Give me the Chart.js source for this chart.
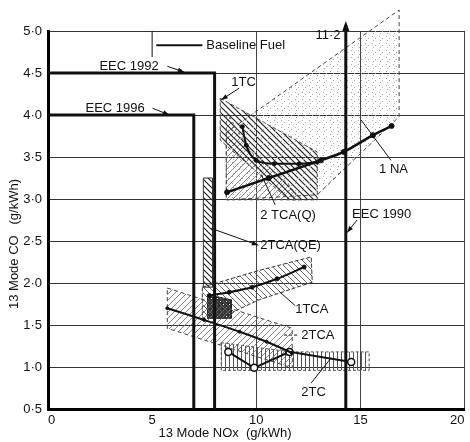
<!DOCTYPE html>
<html>
<head>
<meta charset="utf-8">
<script src="https://cdn.jsdelivr.net/npm/chart.js@4.4.1/dist/chart.umd.min.js"></script>
<style>
html, body { margin: 0; padding: 0; background: #fff; }
#wrap { width: 470px; height: 442px; position: relative; }
</style>
</head>
<body>
<div id="wrap"><canvas id="c"></canvas></div>
<script>
// x = 13 Mode NOx (g/kWh), y = 13 Mode CO (g/kWh)
var xTicks = [0, 5, 10, 15, 20];
var yTicks = [0.5, 1.0, 1.5, 2.0, 2.5, 3.0, 3.5, 4.0, 4.5, 5.0];

// baseline fuel curves
var na1NOx = [8.6, 10.6, 13.1, 14.2, 15.6, 16.5];
var na1CO = [3.08, 3.25, 3.46, 3.56, 3.76, 3.87];
var tcaQNOx = [9.33, 9.52, 10.0, 10.86, 12.06, 12.93];
var tcaQCO = [3.86, 3.64, 3.46, 3.42, 3.42, 3.44];
var tca1NOx = [7.75, 8.7, 9.8, 11.0, 12.3];
var tca1CO = [1.85, 1.89, 1.95, 2.05, 2.19];
var tca2NOx = [5.73, 7.5, 9.2, 10.5, 11.7];
var tca2CO = [1.70, 1.56, 1.42, 1.30, 1.17];
var tc2NOx = [8.66, 9.9, 11.6, 14.56];
var tc2CO = [1.18, 0.99, 1.18, 1.06];

// scatter bands (outlines)
var na1BandNOx = [8.56, 16.86, 16.86, 12.93, 8.56, 8.56];
var na1BandCO = [3.79, 5.25, 3.98, 3.05, 2.99, 3.79];
var tc1BandNOx = [8.27, 12.93, 12.93, 11.58, 8.27, 8.27];
var tc1BandCO = [4.20, 3.56, 2.99, 2.99, 3.70, 4.20];
var tcaQBandNOx = [8.56, 9.67, 11.58, 12.06, 8.56, 8.56];
var tcaQBandCO = [4.04, 3.58, 3.17, 2.99, 2.99, 4.04];
var tcaQEBandNOx = [7.46, 7.90, 7.90, 7.46, 7.46];
var tcaQEBandCO = [3.25, 3.25, 1.95, 1.95, 3.25];
var tca1BandNOx = [7.41, 10.14, 12.64, 12.69, 10.14, 8.23, 7.41, 7.41];
var tca1BandCO = [1.95, 2.15, 2.31, 2.01, 1.80, 1.58, 1.58, 1.95];
var tca2BandNOx = [5.73, 11.73, 11.73, 5.73, 5.73];
var tca2BandCO = [1.94, 1.46, 0.99, 1.46, 1.94];
var tc2BandNOx = [8.32, 11.68, 15.42, 15.42, 8.32, 8.32];
var tc2BandCO = [1.29, 1.18, 1.18, 0.96, 0.96, 1.29];
var overlapNOx = [7.66, 8.8, 8.8, 7.66, 7.66];
var overlapCO = [1.86, 1.80, 1.58, 1.58, 1.86];

// legislative limits
var eec1992NOx = [0, 8, 8];
var eec1992CO = [4.5, 4.5, 0.5];
var eec1996NOx = [0, 7, 7];
var eec1996CO = [4.0, 4.0, 0.5];
var eec1990NOx = [14.3, 14.3];
var eec1990CO = [0.5, 5.07];

function pts(xs, ys) {
    var out = [];
    for (var i = 0; i < xs.length; i++) out.push({ x: xs[i], y: ys[i] });
    return out;
}

function makePattern(size, draw) {
    var cv = document.createElement('canvas');
    cv.width = size; cv.height = size;
    var g = cv.getContext('2d');
    draw(g, size);
    return g.createPattern(cv, 'repeat');
}
function diag(g, s, back, color, w) {
    g.strokeStyle = color; g.lineWidth = w;
    g.beginPath();
    if (back) {
        g.moveTo(-1, -1); g.lineTo(s + 1, s + 1);
        g.moveTo(-1, s - 1); g.lineTo(1, s + 1);
        g.moveTo(s - 1, -1); g.lineTo(s + 1, 1);
    } else {
        g.moveTo(-1, s + 1); g.lineTo(s + 1, -1);
        g.moveTo(-1, 1); g.lineTo(1, -1);
        g.moveTo(s - 1, s + 1); g.lineTo(s + 1, s - 1);
    }
    g.stroke();
}
var hatchBack = makePattern(6, function (g, s) { diag(g, s, true, '#222', 1.2); });
var hatchBackLight = makePattern(6, function (g, s) { diag(g, s, true, '#555', 0.9); });
var hatchFwdLight = makePattern(6, function (g, s) { diag(g, s, false, '#666', 0.8); });
var hatchVert = makePattern(4, function (g, s) {
    g.fillStyle = '#555'; g.fillRect(1, 0, 1, s);
});
var stipple = makePattern(7, function (g, s) {
    g.fillStyle = '#aaa'; g.fillRect(1, 1, 1, 1); g.fillRect(4, 3, 1, 1); g.fillRect(2, 5, 1, 1);
});
var dense = makePattern(3, function (g, s) {
    g.fillStyle = '#333'; g.fillRect(0, 0, 3, 3); g.fillStyle = '#fff'; g.fillRect(1, 1, 1, 1);
});

function band(data, pattern, border, dash) {
    return {
        data: data, backgroundColor: pattern, borderColor: border, borderWidth: 1,
        borderDash: dash, fill: 'shape', pointRadius: 0, tension: 0, order: 10
    };
}
function curve(data, width, radius, opts) {
    var d = {
        data: data, borderColor: '#111', borderWidth: width, fill: false,
        pointRadius: radius, pointBackgroundColor: '#111', pointBorderColor: '#111',
        pointBorderWidth: 1, tension: 0.3, order: 1
    };
    for (var k in (opts || {})) d[k] = opts[k];
    return d;
}

var notes = [
    { t: 'EEC 1992', x: 2.47, y: 4.58, lead: [5.73, 4.58, 6.55, 4.51], arrow: true },
    { t: 'EEC 1996', x: 1.80, y: 4.08, lead: [5.02, 4.08, 5.83, 4.00], arrow: true },
    { t: 'Baseline Fuel', x: 7.60, y: 4.83, lead: [5.2, 4.83, 7.41, 4.83], width: 2 },
    { t: '1TC', x: 8.8, y: 4.39, lead: [9.18, 4.32, 8.32, 4.18], arrow: true },
    { t: '1 NA', x: 15.9, y: 3.35, lead: [15.04, 3.94, 16.47, 3.46] },
    { t: '2 TCA(Q)', x: 10.19, y: 2.81, lead: [10.91, 2.93, 10.24, 3.29] },
    { t: 'EEC 1990', x: 14.6, y: 2.82, lead: [14.84, 2.75, 14.36, 2.60], arrow: true },
    { t: '11·2', x: 14.05, y: 4.95, align: 'right' },
    { t: '2TCA(QE)', x: 10.19, y: 2.45, lead: [7.84, 2.65, 10.10, 2.45], arrow: true },
    { t: '1TCA', x: 11.87, y: 1.68, lead: [11.10, 1.90, 11.87, 1.73] },
    { t: '2TCA', x: 12.16, y: 1.38, lead: [11.34, 1.38, 12.06, 1.38], dash: true },
    { t: '2TC', x: 12.16, y: 0.70, lead: [12.64, 0.81, 13.60, 1.11] }
];

var labelFont = '13px "Liberation Sans", Arial, sans-serif';

var annotate = {
    id: 'annotate',
    afterDraw: function (chart) {
        var c = chart.ctx, sx = chart.scales.x, sy = chart.scales.y;
        c.save();
        c.fillStyle = '#111'; c.strokeStyle = '#111';
        c.font = labelFont; c.textBaseline = 'middle';
        // short x=5 rule under the legend
        c.lineWidth = 1;
        c.beginPath();
        c.moveTo(sx.getPixelForValue(5), sy.getPixelForValue(5.0));
        c.lineTo(sx.getPixelForValue(5), sy.getPixelForValue(4.69));
        c.stroke();
        notes.forEach(function (n) {
            if (n.lead) {
                var x1 = sx.getPixelForValue(n.lead[0]), y1 = sy.getPixelForValue(n.lead[1]);
                var x2 = sx.getPixelForValue(n.lead[2]), y2 = sy.getPixelForValue(n.lead[3]);
                c.lineWidth = n.width || 1;
                c.setLineDash(n.dash ? [3, 2] : []);
                c.beginPath(); c.moveTo(x1, y1); c.lineTo(x2, y2); c.stroke();
                c.setLineDash([]);
                if (n.arrow) {
                    var a = Math.atan2(y2 - y1, x2 - x1);
                    c.beginPath();
                    c.moveTo(x2, y2);
                    c.lineTo(x2 - 7 * Math.cos(a - 0.35), y2 - 7 * Math.sin(a - 0.35));
                    c.lineTo(x2 - 7 * Math.cos(a + 0.35), y2 - 7 * Math.sin(a + 0.35));
                    c.closePath(); c.fill();
                }
            }
            c.textAlign = n.align || 'left';
            c.fillText(n.t, sx.getPixelForValue(n.x), sy.getPixelForValue(n.y));
        });
        // arrow on EEC 1990 limit (off scale)
        var ax = sx.getPixelForValue(eec1990NOx[1]), ay = sy.getPixelForValue(eec1990CO[1]);
        c.beginPath(); c.moveTo(ax, ay - 4); c.lineTo(ax - 3.5, ay + 6); c.lineTo(ax + 3.5, ay + 6); c.closePath(); c.fill();
        // axis titles
        c.textAlign = 'center';
        c.fillText('13 Mode NOx  (g/kWh)', 225, 433);
        c.translate(14, 244); c.rotate(-Math.PI / 2);
        c.fillText('13 Mode CO   (g/kWh)', 0, 0);
        c.restore();
    }
};

new Chart(document.getElementById('c'), {
    type: 'line',
    data: {
        datasets: [
            Object.assign(band(pts(na1BandNOx, na1BandCO), stipple, '#444', [4, 3]), { clip: false }),
            band(pts(tcaQBandNOx, tcaQBandCO), hatchFwdLight, '#555', [3, 3]),
            band(pts(tc1BandNOx, tc1BandCO), hatchBack, '#444', [4, 2]),
            band(pts(tcaQEBandNOx, tcaQEBandCO), hatchBack, '#333', []),
            band(pts(tca2BandNOx, tca2BandCO), hatchFwdLight, '#444', [4, 3]),
            band(pts(tca1BandNOx, tca1BandCO), hatchBackLight, '#333', [4, 2]),
            band(pts(tc2BandNOx, tc2BandCO), hatchVert, '#555', [3, 2]),
            band(pts(overlapNOx, overlapCO), dense, '#222', []),
            curve(pts(eec1992NOx, eec1992CO), 3, 0, { tension: 0 }),
            curve(pts(eec1996NOx, eec1996CO), 3, 0, { tension: 0 }),
            curve(pts(eec1990NOx, eec1990CO), 3, 0, { tension: 0, clip: false }),
            curve(pts(na1NOx, na1CO), 2.5, 2.5),
            curve(pts(tcaQNOx, tcaQCO), 2, 2, { cubicInterpolationMode: 'monotone' }),
            curve(pts(tca1NOx, tca1CO), 2, 2),
            curve(pts(tca2NOx, tca2CO), 2, 1.5),
            curve(pts(tc2NOx, tc2CO), 2, 3.5, { tension: 0, pointBackgroundColor: '#fff', pointBorderWidth: 1.5 })
        ]
    },
    options: {
        responsive: true,
        maintainAspectRatio: false,
        animation: false,
        layout: { padding: { top: 31, right: 4, left: 0, bottom: 0 } },
        plugins: { legend: { display: false }, tooltip: { enabled: false } },
        scales: {
            x: {
                type: 'linear', min: 0, max: 20,
                afterBuildTicks: function (s) { s.ticks = xTicks.map(function (v) { return { value: v }; }); },
                afterFit: function (s) { s.height = 33; s.paddingLeft = 0; s.paddingRight = 0; },
                ticks: { color: '#111', font: { size: 13, family: '"Liberation Sans", Arial' }, padding: 4, maxRotation: 0, align: 'inner' },
                grid: {
                    drawTicks: false, lineWidth: 1,
                    color: function (ctx) { return ctx.tick && ctx.tick.value >= 10 ? '#444' : 'rgba(0,0,0,0)'; }
                },
                border: { display: true, color: '#000', width: 3 }
            },
            y: {
                type: 'linear', min: 0.5, max: 5.0,
                afterBuildTicks: function (s) { s.ticks = yTicks.map(function (v) { return { value: v }; }); },
                afterFit: function (s) { s.width = 48; s.paddingTop = 0; s.paddingBottom = 0; },
                ticks: {
                    color: '#111', font: { size: 13, family: '"Liberation Sans", Arial' }, padding: 6,
                    callback: function (v) { return v.toFixed(1).replace('.', '·'); }
                },
                grid: {
                    drawTicks: false, lineWidth: 1,
                    color: function (ctx) { return ctx.tick && ctx.tick.value > 0.5 ? '#333' : 'rgba(0,0,0,0)'; }
                },
                border: { display: true, color: '#000', width: 3 }
            }
        }
    },
    plugins: [annotate]
});
</script>
</body>
</html>
